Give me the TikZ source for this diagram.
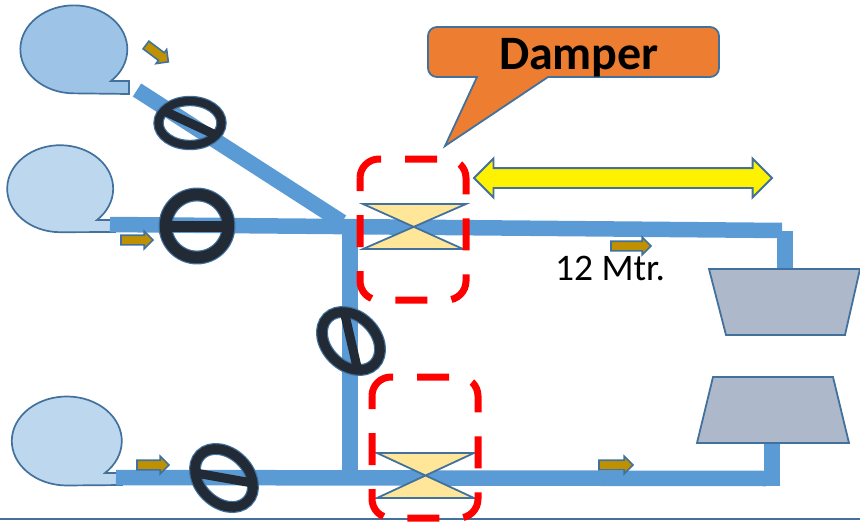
\documentclass[tikz,border=0pt]{standalone}
\usepackage{fontspec}
\setmainfont{Carlito}
\usetikzlibrary{shapes.geometric, shapes.arrows}

\definecolor{pipeblue}{HTML}{5B9BD5}
\definecolor{edgeblue}{HTML}{41719C}
\definecolor{ringdark}{HTML}{222A35}
\definecolor{goldfill}{HTML}{BF9000}
\definecolor{damperfill}{HTML}{FFE699}
\definecolor{turbinefill}{HTML}{ADB9CA}
\definecolor{calloutfill}{HTML}{ED7D31}

\begin{document}
\begin{tikzpicture}[
  x = 1pt,
  y = -1pt,
  bubble/.style = {
    draw = edgeblue,
    line width = 1.7pt,
  },
  pipe/.style = {
    draw = pipeblue,
    line width = 15.5pt,
  },
  turbine/.style = {
    draw = edgeblue,
    fill = turbinefill,
    line width = 1.8pt,
  },
  damper/.style = {
    draw = edgeblue,
    fill = damperfill,
    line width = 1.8pt,
  },
  dampbox/.style = {
    draw = red,
    line width = 7pt,
    rounded corners = 19pt,
    dash pattern = on 32pt off 24pt,
  },
  valve/.style = {
    shape = ellipse,
    draw = edgeblue,
    double = ringdark,
    line width = 1.2pt,
    inner sep = 0pt,
    outer sep = 0pt,
  },
  valvebar/.style = {
    draw = ringdark,
    line width = 9pt,
  },
  flow/.style = {
    shape = single arrow,
    draw = edgeblue,
    fill = goldfill,
    line width = 1.6pt,
    inner xsep = 0pt,
    inner ysep = 4pt,
    outer sep = 0pt,
    minimum width = 16pt,
    minimum height = 32pt,
    single arrow head extend = 4pt,
    anchor = tail,
  }
]
  \useasboundingbox (0, 0) rectangle (860, 522);

  \coordinate (groundl) at (0, 519);
  \coordinate (groundr) at (860, 519);
  \draw[edgeblue, line width = 2pt] (groundl) -- (groundr);

  \draw[bubble, fill = pipeblue!60!white] (111, 81)
    arc[start angle = -46, end angle = 270, x radius = 53.5pt, y radius = 44pt]
    -- (129, 94) -- (129, 81) -- cycle;
  \draw[bubble, fill = pipeblue!40!white] (97, 220)
    arc[start angle = -46, end angle = 270, x radius = 53pt, y radius = 43.5pt]
    -- (115, 232) -- (115, 220) -- cycle;
  \draw[bubble, fill = pipeblue!40!white] (105, 473)
    arc[start angle = -46, end angle = 270, x radius = 55pt, y radius = 44.5pt]
    -- (122, 485) -- (122, 473) -- cycle;

  \coordinate (p1) at (137, 90);
  \coordinate (j1) at (342, 222);
  \coordinate (p2) at (110, 224.5);
  \coordinate (p3) at (782, 230.5);
  \coordinate (p4) at (785, 231);
  \coordinate (t1) at (785, 270);
  \coordinate (j2) at (350, 225);
  \coordinate (j3) at (350, 478);
  \coordinate (p5) at (116, 477.5);
  \coordinate (p6) at (766, 478.5);
  \coordinate (p7) at (772, 485.5);
  \coordinate (t2) at (772, 442);

  \draw[pipe] (p1) -- (j1);
  \draw[pipe] (p2) -- (p3);
  \draw[pipe] (p4) -- (t1);
  \draw[pipe] (j2) -- (j3);
  \draw[pipe] (p5) -- (p6);
  \draw[pipe] (p7) -- (t2);

  \draw[turbine] (709, 269) -- (860, 269) -- (845, 335) -- (726, 335) -- cycle;
  \draw[turbine] (713, 377) -- (833, 377) -- (849, 443) -- (697, 443) -- cycle;

  \node[valve, double distance = 8pt, minimum width = 63pt, minimum height = 44pt] (v1) at (190, 123) {};
  \node[valve, double distance = 11.5pt, minimum width = 63pt, minimum height = 63pt] (v2) at (197, 226) {};
  \node[valve, double distance = 9.5pt, minimum width = 66pt, minimum height = 49pt, rotate = -45] (v3) at (351, 341) {};
  \node[valve, double distance = 9.5pt, minimum width = 66pt, minimum height = 49pt, rotate = -45] (v4) at (224, 478) {};

  \draw[valvebar] (v1.155) -- (v1.335);
  \draw[valvebar, line width = 11pt] (v2.west) -- (v2.east);
  \draw[valvebar] (v3.148) -- (v3.328);
  \draw[valvebar] (v4.35) -- (v4.215);

  \draw[damper] (363, 204) -- (466, 204) -- (363, 249) -- (463, 249) -- cycle;
  \draw[damper] (377, 453) -- (474, 453) -- (377, 498) -- (474, 498) -- cycle;

  \draw[dampbox] (360, 197) -- (360, 159) -- (466, 159) -- (466, 300) -- (360, 300) -- cycle;
  \draw[dampbox] (372, 415) -- (372, 377) -- (478, 377) -- (478, 518) -- (372, 518) -- cycle;

  \node[flow, minimum height = 28pt, rotate = -37] (f1) at (146, 45) {};
  \node[flow] (f2) at (121, 240) {};
  \node[flow] (f3) at (137, 465) {};
  \node[flow, minimum height = 40pt] (f4) at (611, 246) {};
  \node[flow, minimum height = 34pt] (f5) at (599, 465) {};

  \node[
    shape = double arrow,
    draw = edgeblue,
    fill = yellow,
    line width = 1.8pt,
    inner xsep = 0pt,
    inner ysep = 9pt,
    minimum width = 38pt,
    minimum height = 298pt,
    double arrow head extend = 9.5pt,
  ] (span) at (623, 178) {};

  \draw[draw = edgeblue, fill = calloutfill, line width = 1.8pt]
    (477, 77) -- (445, 146) -- (548, 77)
    [rounded corners = 9pt] -- (719, 77) -- (719, 27) -- (428, 27) -- (428, 77)
    [sharp corners] -- cycle;

  \node[font = \fontsize{48}{48}\selectfont\bfseries] (dampertext) at (579, 58) {Damper};
  \node[font = \fontsize{37.5}{37.5}\selectfont] (lengthtext) at (610, 268) {12 Mtr.};
\end{tikzpicture}
\end{document}
